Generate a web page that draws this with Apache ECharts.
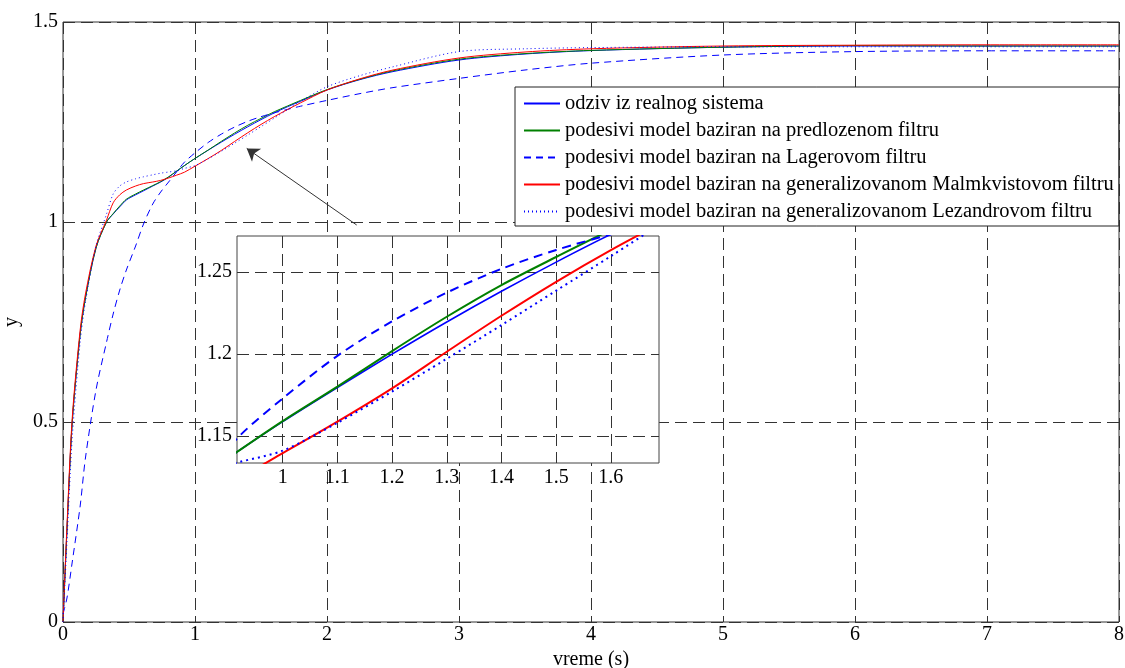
<!DOCTYPE html>
<html>
<head>
<meta charset="utf-8">
<script src="https://cdn.jsdelivr.net/npm/echarts@6/dist/echarts.min.js"></script>
<style>
  html, body { margin: 0; padding: 0; background: #fff; }
  #chart { width: 1125px; height: 668px; }
</style>
</head>
<body>
<div id="chart"></div>
<script>
// vreme (s)
const t = [0, 0.03, 0.07, 0.13, 0.17, 0.25, 0.33, 0.38, 0.43, 0.48, 0.55, 0.61, 0.68, 0.74, 0.8, 0.86, 0.92,
  1.0, 1.1, 1.2, 1.3, 1.4, 1.5, 1.6, 1.7, 1.8, 2.0, 2.25, 2.5, 3, 3.5, 4, 5, 6, 7, 8];

const realni = [0, 0.23, 0.5, 0.72, 0.81, 0.935, 1.0, 1.02, 1.038, 1.055, 1.068, 1.078, 1.09, 1.1, 1.112, 1.127, 1.141,
  1.1587, 1.1795, 1.1998, 1.2194, 1.2381, 1.2559, 1.2728, 1.288, 1.302, 1.33, 1.356, 1.376, 1.405, 1.42, 1.4285, 1.437, 1.44, 1.44, 1.44];
const predlozeni = [0, 0.23, 0.5, 0.72, 0.81, 0.935, 1.0, 1.021, 1.04, 1.057, 1.07, 1.08, 1.091, 1.101, 1.113, 1.127, 1.141,
  1.159, 1.18, 1.2017, 1.2226, 1.2419, 1.259, 1.2755, 1.29, 1.304, 1.331, 1.357, 1.378, 1.407, 1.421, 1.429, 1.437, 1.441, 1.44, 1.44];
const lager = [0.02, 0.06, 0.15, 0.29, 0.41, 0.58, 0.7, 0.77, 0.83, 0.88, 0.94, 0.995, 1.045, 1.075, 1.1, 1.125, 1.1496,
  1.1728, 1.1988, 1.2198, 1.2373, 1.2518, 1.2633, 1.2728, 1.2815, 1.2895, 1.304, 1.321, 1.336, 1.359, 1.38, 1.397, 1.4175, 1.426, 1.428, 1.428];
const malmkvist = [0, 0.24, 0.51, 0.73, 0.82, 0.94, 1.005, 1.048, 1.068, 1.08, 1.09, 1.096, 1.1, 1.104, 1.11, 1.117, 1.1245,
  1.1395, 1.1587, 1.179, 1.2013, 1.2232, 1.2439, 1.2632, 1.281, 1.298, 1.33, 1.358, 1.38, 1.41, 1.425, 1.433, 1.44, 1.442, 1.443, 1.443];
const lezandr = [0, 0.2, 0.46, 0.7, 0.8, 0.94, 1.02, 1.07, 1.09, 1.1, 1.108, 1.113, 1.118, 1.122, 1.125, 1.128, 1.134,
  1.141, 1.158, 1.177, 1.197, 1.2175, 1.2385, 1.2595, 1.281, 1.302, 1.338, 1.366, 1.388, 1.426, 1.433, 1.436, 1.438, 1.438, 1.438, 1.438];

const names = [
  'odziv iz realnog sistema',
  'podesivi model baziran na predlozenom filtru',
  'podesivi model baziran na Lagerovom filtru',
  'podesivi model baziran na generalizovanom Malmkvistovom filtru',
  'podesivi model baziran na generalizovanom Lezandrovom filtru'
];
const values = [realni, predlozeni, lager, malmkvist, lezandr];
const colors = ['#0000ff', '#008000', '#0000ff', '#ff0000', '#0000ff'];
const mainDash = ['solid', 'solid', [7, 5], 'solid', [1, 3]];
const insetDash = ['solid', 'solid', [9, 6], 'solid', [2, 4]];
const insetWidth = [1.6, 2, 2, 2, 2];

const insetXTicks = [1, 1.1, 1.2, 1.3, 1.4, 1.5, 1.6];
const insetYTicks = [1.15, 1.2, 1.25];

// strelica
const arrowFrom = [2.225, 0.9925];
const arrowTo = [1.392, 1.184];

const font = 'Liberation Serif';
const gridDash = { color: '#333', width: 1, type: [12, 6] };

let chart = echarts.init(document.getElementById('chart'));

let series = [];
values.forEach((v, i) => {
  const pts = t.map((x, k) => [x, v[k]]);
  series.push({
    name: names[i],
    type: 'line',
    xAxisIndex: 0,
    yAxisIndex: 0,
    data: pts,
    symbol: 'none',
    smooth: 0.3,
    lineStyle: { color: colors[i], width: 1, type: mainDash[i] },
    itemStyle: { color: colors[i] },
    z: 2
  });
});
values.forEach((v, i) => {
  const pts = t.map((x, k) => [x, v[k]]);
  series.push({
    name: names[i],
    type: 'line',
    xAxisIndex: 1,
    yAxisIndex: 1,
    data: pts,
    symbol: 'none',
    smooth: 0.3,
    lineStyle: { color: colors[i], width: insetWidth[i], type: insetDash[i] },
    itemStyle: { color: colors[i] },
    z: 6
  });
});

series[0].markLine = {
  silent: true,
  symbol: ['none', 'arrow'],
  symbolSize: 12,
  label: { show: false },
  lineStyle: { color: '#333', width: 1, type: 'solid' },
  itemStyle: { color: '#333' },
  data: [[{ coord: arrowFrom }, { coord: arrowTo }]]
};

const option = {
  animation: false,
  backgroundColor: '#fff',
  textStyle: { fontFamily: font },
  legend: {
    orient: 'vertical',
    left: 515,
    top: 87,
    padding: [6, 5, 4, 8],
    itemWidth: 36,
    itemHeight: 14,
    itemGap: 6,
    backgroundColor: '#fff',
    borderColor: '#222',
    borderWidth: 1,
    borderRadius: 0,
    selectedMode: false,
    itemStyle: { opacity: 0 },
    textStyle: { fontFamily: font, fontSize: 20.5, color: '#000', lineHeight: 20 },
    data: names
  },
  grid: [
    { left: 63, top: 22, width: 1056, height: 600, outerBoundsMode: 'none', containLabel: false,
      show: true, borderColor: '#333', borderWidth: 1, backgroundColor: '#fff' },
    { left: 237, top: 236, width: 422, height: 227, outerBoundsMode: 'none', containLabel: false,
      show: true, borderColor: '#444', borderWidth: 1, backgroundColor: '#fff', z: 3 }
  ],
  xAxis: [
    {
      type: 'value', gridIndex: 0, min: 0, max: 8, interval: 1,
      name: 'vreme (s)', nameLocation: 'middle', nameGap: 28,
      nameTextStyle: { fontFamily: font, fontSize: 20, color: '#000' },
      axisLine: { show: false },
      axisTick: { show: false },
      axisLabel: { fontFamily: font, fontSize: 20, color: '#000', margin: 3 },
      splitLine: { show: true, lineStyle: gridDash }
    },
    {
      type: 'value', gridIndex: 1, min: 0.9165, max: 1.688, z: 4,
      axisLine: { show: false },
      axisTick: { show: false, customValues: insetXTicks },
      axisLabel: { fontFamily: font, fontSize: 20, color: '#000', margin: 5, customValues: insetXTicks },
      splitLine: { show: true, lineStyle: gridDash }
    }
  ],
  yAxis: [
    {
      type: 'value', gridIndex: 0, min: 0, max: 1.5, interval: 0.5,
      name: 'y', nameLocation: 'middle', nameGap: 37, nameRotate: 90,
      nameTextStyle: { fontFamily: font, fontSize: 20, color: '#000' },
      axisLine: { show: false },
      axisTick: { show: false },
      axisLabel: { fontFamily: font, fontSize: 20, color: '#000', margin: 5 },
      splitLine: { show: true, lineStyle: gridDash }
    },
    {
      type: 'value', gridIndex: 1, min: 1.1335, max: 1.2718, z: 4,
      axisLine: { show: false },
      axisTick: { show: false, customValues: insetYTicks },
      axisLabel: { fontFamily: font, fontSize: 20, color: '#000', margin: 5, customValues: insetYTicks },
      splitLine: { show: true, lineStyle: gridDash }
    }
  ],
  series: series
};

chart.setOption(option);
</script>
</body>
</html>
